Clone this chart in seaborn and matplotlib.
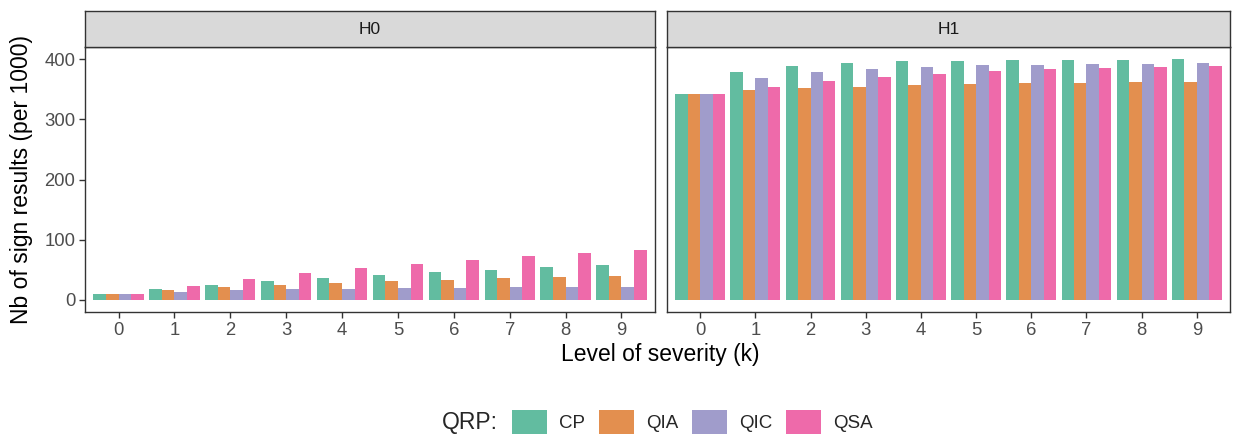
import numpy as np
import pandas as pd
import matplotlib
matplotlib.use("Agg")
import matplotlib.pyplot as plt
import seaborn as sns
from matplotlib.patches import Patch

sns.set_theme(style="white")
plt.rcParams['font.family'] = ['Liberation Sans', 'DejaVu Sans']

levels = [0, 1, 2, 3, 4, 5, 6, 7, 8, 9]
qrps = ["CP", "QIA", "QIC", "QSA"]
colors = ["#62BCA0", "#E38F4F", "#A09CCB", "#EE6AAA"]

h0_cp = [10, 18, 25, 31.5, 36.5, 41.5, 46.5, 50, 55, 58]
h0_qia = [10, 16.5, 21.5, 25, 28, 31.5, 33, 36.5, 38, 40]
h0_qic = [10, 13, 16.5, 18, 18, 20, 20, 21.5, 21.5, 21.5]
h0_qsa = [10, 23, 35, 45, 53, 60, 66, 73, 78, 83]

h1_cp = [342, 378, 388, 393, 397, 397, 398, 398, 398, 400]
h1_qia = [342, 348.5, 352, 353.5, 357, 358.5, 360, 360, 362, 362]
h1_qic = [342, 368.5, 378, 383.5, 387, 390, 390, 392, 392, 393.5]
h1_qsa = [342, 353.5, 363, 370, 375, 380, 383.5, 385, 387, 388]

def frame(hyp, series):
    rows = []
    for q, vals in zip(qrps, series):
        for k, v in zip(levels, vals):
            rows.append({"hyp": hyp, "k": k, "QRP": q, "value": v})
    return pd.DataFrame(rows)

df = pd.concat([frame("H0", [h0_cp, h0_qia, h0_qic, h0_qsa]),
                frame("H1", [h1_cp, h1_qia, h1_qic, h1_qsa])])

W, H = 1238, 437
fig = plt.figure(figsize=(W / 100, H / 100), dpi=100)

def px_axes(x0, y0, x1, y1):
    return fig.add_axes([x0 / W, 1 - y1 / H, (x1 - x0) / W, (y1 - y0) / H])

panels = [("H0", 85, 655), ("H1", 667, 1230)]
border = "#333333"
for i, (hyp, x0, x1) in enumerate(panels):
    ax = px_axes(x0, 47, x1, 312)
    sns.barplot(data=df[df.hyp == hyp], x="k", y="value", hue="QRP",
                hue_order=qrps, palette=colors, saturation=1, width=0.9,
                dodge=True, ax=ax, legend=False, errorbar=None,
                linewidth=0, edgecolor="none")
    ax.set_xlim(-0.6, 9.6)
    ax.set_ylim(-20, 420)
    ax.set_yticks([0, 100, 200, 300, 400])
    ax.set_xlabel("")
    ax.set_ylabel("")
    for s in ax.spines.values():
        s.set_color(border)
        s.set_linewidth(1.0)
    ax.tick_params(axis="both", which="both", length=4, width=1, color=border,
                   labelsize=13.3, labelcolor="#4D4D4D", pad=3, bottom=True, left=True)
    if i == 1:
        ax.tick_params(axis="y", left=False, labelleft=False)
    sax = px_axes(x0, 11, x1, 47)
    sax.set_facecolor("#D9D9D9")
    sax.set_xticks([])
    sax.set_yticks([])
    for s in sax.spines.values():
        s.set_color(border)
        s.set_linewidth(1.0)
    sax.text(0.5, 0.5, hyp, ha="center", va="center", fontsize=12.5,
             color="#1A1A1A", transform=sax.transAxes)

fig.text(660 / W, 1 - 355 / H, "Level of severity (k)", ha="center", va="center",
         fontsize=16.5, color="black")
fig.text(22 / W, 1 - 180 / H, "Nb of sign results (per 1000)", ha="center",
         va="center", rotation=90, fontsize=16.5, color="black")

handles = [Patch(facecolor=c, edgecolor="none", label=q) for q, c in zip(qrps, colors)]
fig.text(470 / W, 1 - 423 / H, "QRP:", ha="center", va="center", fontsize=16.5)
fig.legend(handles=handles, loc="center left", bbox_to_anchor=(512 / W, 1 - 422 / H),
           ncol=4, frameon=False, fontsize=13.5, handlelength=1.85, handleheight=1.65,
           handletextpad=0.65, columnspacing=0.75, borderaxespad=0, borderpad=0)

fig.savefig("out.png", dpi=100, facecolor="white")
